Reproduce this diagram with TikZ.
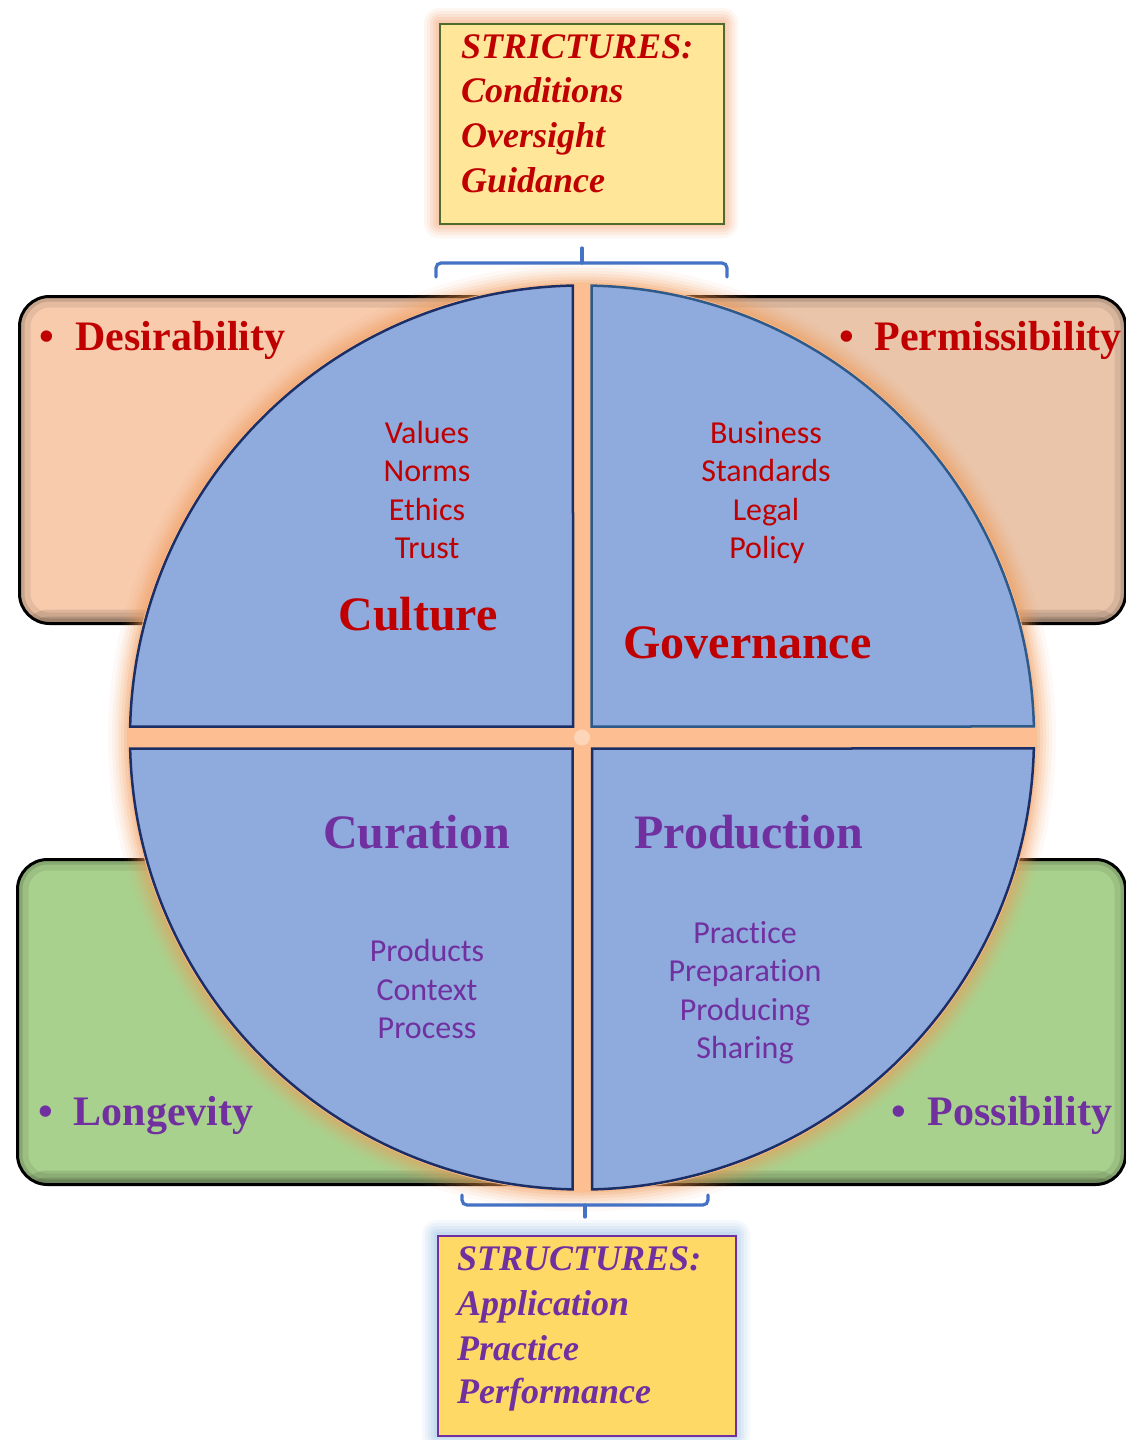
\documentclass[tikz,border=0pt]{standalone}
\usepackage{fontspec}
\setmainfont{Liberation Serif}
\newfontfamily\calfont[Ligatures={NoCommon,NoContextual}]{Carlito}
\definecolor{dred}{HTML}{C00000}
\definecolor{dpurple}{HTML}{7030A0}
\definecolor{qblue}{HTML}{8FAADC}
\definecolor{qnavy}{HTML}{1B2F66}
\definecolor{qsteel}{HTML}{2E5A8A}
\definecolor{peachA}{HTML}{F8CBAD}
\definecolor{peachB}{HTML}{EAC5AA}
\definecolor{greenA}{HTML}{A9D18E}
\definecolor{gapc}{HTML}{FDBF92}
\definecolor{glow}{HTML}{F39A55}
\definecolor{bracec}{HTML}{4472C4}
\definecolor{ybox}{HTML}{FFE699}
\definecolor{gbox}{HTML}{FFD966}
\definecolor{oliveb}{HTML}{4E6B2E}
\definecolor{bglow}{HTML}{9DC3E6}
\definecolor{oglow}{HTML}{F6A878}
\begin{document}
\begin{tikzpicture}[x=1pt,y=-1pt,
  sidebox/.style={draw=black, line width=3pt, rounded corners=30pt, anchor=north west, inner sep=0pt,
    path picture={
      \draw[black,opacity=0.08,line width=22pt,rounded corners=30pt] (path picture bounding box.south west) rectangle (path picture bounding box.north east);
      \draw[black,opacity=0.12,line width=10pt,rounded corners=30pt] (path picture bounding box.south west) rectangle (path picture bounding box.north east);
      \fill[black,opacity=0.10] ([yshift=14pt]path picture bounding box.south west) rectangle (path picture bounding box.south east);
      \fill[black,opacity=0.12] ([yshift=7pt]path picture bounding box.south west) rectangle (path picture bounding box.south east);
    }},
  quad/.style={fill=qblue, draw=qnavy, line width=2.5pt, line join=miter},
  small/.style={font=\calfont\fontsize{32}{32}\selectfont, anchor=base, inner sep=0pt},
  big/.style={font=\fontsize{48}{48}\selectfont\bfseries, anchor=base, inner sep=0pt},
  side/.style={font=\fontsize{42}{42}\selectfont\bfseries, anchor=base west, inner sep=0pt},
  boxtxt/.style={font=\fontsize{36}{36}\selectfont\bfseries\itshape, anchor=base west, inner sep=0pt},
  brace/.style={draw=bracec, line width=3.2pt, rounded corners=5pt, line cap=round}
]
\useasboundingbox (0,0) rectangle (1126,1440);
\fill[white] (0,0) rectangle (1126,1440);

% side boxes
\node[sidebox, fill=peachA, minimum width=582, minimum height=327] (tlbox) at (18,295) {};
\node[sidebox, fill=peachB, minimum width=564, minimum height=327] (trbox) at (560,295) {};
\node[sidebox, fill=greenA, minimum width=584, minimum height=325] (blbox) at (16,858) {};
\node[sidebox, fill=greenA, minimum width=564, minimum height=325] (brbox) at (560,858) {};

% circle glow and gap fill
\coordinate (c) at (582,737.5);
\foreach \d/\o in {22/0.05,18/0.07,15/0.09,12/0.11,9/0.14,6/0.18,3/0.25}
  \fill[glow,opacity=\o] (c) circle[radius={(452+\d)*1pt}];
\fill[gapc] (c) circle[radius=454pt];
\fill[white,opacity=0.35] (c) circle[radius=8pt];

% quadrants
\path[quad] (573,726.5) -- (130.13,726.5) arc[start angle=178.61,end angle=91.14,radius=452pt] -- cycle;
\path[quad,draw=qsteel] (591.5,726.5) -- (591.5,285.6) arc[start angle=88.80,end angle=1.394,radius=452pt] -- cycle;
\path[quad] (572.5,748.5) -- (130.13,748.5) arc[start angle=181.394,end angle=268.80,radius=452pt] -- cycle;
\path[quad] (592,748.5) -- (592,1189.4) arc[start angle=271.27,end angle=358.61,radius=452pt] -- cycle;

% quadrant titles
\node[big, text=dred] (culture) at (418,630) {Culture};
\node[big, text=dred] (governance) at (747.5,658) {Governance};
\node[big, text=dpurple] (curation) at (416.5,848) {Curation};
\node[big, text=dpurple] (production) at (748.5,848) {Production};

% quadrant word lists
\node[small, text=dred] (values) at (427,443) {Values};
\node[small, text=dred] (norms) at (427,481) {Norms};
\node[small, text=dred] (ethics) at (427,520) {Ethics};
\node[small, text=dred] (trust) at (427,558) {Trust};
\node[small, text=dred] (business) at (766,443) {Business};
\node[small, text=dred] (standards) at (766,481) {Standards};
\node[small, text=dred] (legal) at (766,520) {Legal};
\node[small, text=dred] (policy) at (767,558) {Policy};
\node[small, text=dpurple] (products) at (427,961) {Products};
\node[small, text=dpurple] (context) at (427,1000) {Context};
\node[small, text=dpurple] (process) at (427,1038) {Process};
\node[small, text=dpurple] (practice) at (745,943) {Practice};
\node[small, text=dpurple] (preparation) at (745,981) {Preparation};
\node[small, text=dpurple] (producing) at (745,1020) {Producing};
\node[small, text=dpurple] (sharing) at (745,1058) {Sharing};

% side labels
\node[side, text=dred] (desir) at (39.5,350) {•\hspace{21pt}Desirability};
\node[side, text=dred] (permis) at (839.5,350) {•\hspace{20pt}Permissibility};
\node[side, text=dpurple] (longev) at (38,1125) {•\hspace{21pt}Longevity};
\node[side, text=dpurple] (possib) at (891,1125) {•\hspace{22pt}Possibility};

% top box with glow
\foreach \d/\o in {15/0.10,12/0.12,9/0.15,6/0.18,3/0.22}
  \fill[oglow,opacity=\o,rounded corners={\d*1pt}] (439-\d,23-\d) rectangle (723+\d,223+\d);
\node[draw=oliveb, fill=ybox, line width=1.5pt, anchor=north west, minimum width=284, minimum height=200, inner sep=0pt] (topbox) at (439,23) {};
\node[boxtxt, text=dred] (st1) at (461,58) {STRICTURES:};
\node[boxtxt, text=dred] (st2) at (461,102) {Conditions};
\node[boxtxt, text=dred] (st3) at (461,147) {Oversight};
\node[boxtxt, text=dred] (st4) at (461,192) {Guidance};

% bottom box with glow
\foreach \d/\o in {15/0.10,12/0.12,9/0.15,6/0.18,3/0.22}
  \fill[bglow,opacity=\o,rounded corners={\d*1pt}] (437-\d,1235-\d) rectangle (735+\d,1435+\d);
\node[draw=dpurple, fill=gbox, line width=1.5pt, anchor=north west, minimum width=298, minimum height=200, inner sep=0pt] (botbox) at (437,1235) {};
\node[boxtxt, text=dpurple] (su1) at (457,1270) {STRUCTURES:};
\node[boxtxt, text=dpurple] (su2) at (457,1315) {Application};
\node[boxtxt, text=dpurple] (su3) at (457,1360) {Practice};
\node[boxtxt, text=dpurple] (su4) at (457,1403) {Performance};

% braces
\coordinate (tbL) at (436,277);
\coordinate (tbR) at (727,277);
\coordinate (tbM) at (582,263);
\coordinate (tbT) at (582,248);
\draw[brace] (tbL) -- (436,263) -- (tbM) -- (727,263) -- (tbR);
\draw[brace,rounded corners=0pt] (tbM) -- (tbT);
\coordinate (bbL) at (462,1195);
\coordinate (bbR) at (708,1195);
\coordinate (bbM) at (585,1205);
\coordinate (bbT) at (585,1217);
\draw[brace] (bbL) -- (462,1205) -- (bbM) -- (708,1205) -- (bbR);
\draw[brace,rounded corners=0pt] (bbM) -- (bbT);
\end{tikzpicture}
\end{document}
